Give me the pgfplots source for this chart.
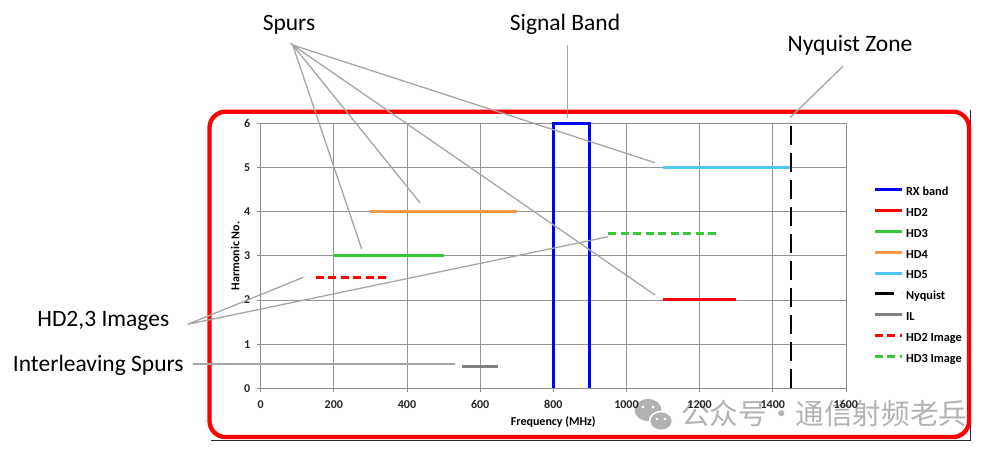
\documentclass[border=0pt]{standalone}
\usepackage{pgfplots}
\pgfplotsset{compat=1.18}
\usepackage{fontspec}
\setmainfont{Carlito}
\newfontfamily\cjk{Noto Sans CJK SC}
\definecolor{rxblue}{RGB}{0,0,255}
\definecolor{hdred}{RGB}{255,0,0}
\definecolor{hdgreen}{RGB}{55,200,55}
\definecolor{hdorange}{RGB}{247,150,70}
\definecolor{hdcyan}{RGB}{80,200,245}
\definecolor{ilgray}{RGB}{128,128,128}
\definecolor{anngray}{RGB}{165,165,165}
\definecolor{wmgray}{RGB}{178,178,178}
\begin{document}
\begin{tikzpicture}[x=1pt,y=1pt]
\useasboundingbox (0,0) rectangle (995,456);
% watermark (behind the chart text)
\fill[wmgray] (648,46) ellipse (13.5pt and 11pt);
\filldraw[wmgray, draw=white, line width=1.5pt] (661,35) ellipse (11.5pt and 9.5pt);
\fill[white] (643,49) circle (1.6pt) (653,49) circle (1.6pt) (657,37) circle (1.4pt) (665,37) circle (1.4pt);
\node[anchor=base west, inner sep=0pt, text=wmgray] at (681,31.5) {\cjk\fontsize{28.6}{30}\selectfont 公众号・通信射频老兵};
% thin chart-area edge
\draw[black!85, line width=0.8pt] (211,16) -- (970,16) -- (970,346);
\begin{axis}[
  at={(260.7pt,67.7pt)}, anchor=south west,
  width=585.2pt, height=265pt, scale only axis,
  xmin=0, xmax=1600, ymin=0, ymax=6,
  xtick={0,200,...,1600}, ytick={0,1,...,6},
  grid=major, grid style={black!42, line width=0.8pt},
  axis line style={black!45, line width=0.8pt},
  tick style={black!45, line width=0.8pt},
  tick align=outside, major tick length=3.3pt, tick pos=left,
  /pgf/number format/assume math mode=true,
  /pgf/number format/1000 sep={},
  ticklabel style={font=\bfseries\fontsize{12}{13}\selectfont, text=black!85},
  xticklabel style={anchor=base, yshift=-16.5pt},
  yticklabel style={anchor=east, inner sep=0pt, xshift=-7pt},
  xlabel={Frequency (MHz)}, ylabel={Harmonic No.},
  label style={font=\bfseries\fontsize{12}{13}\selectfont},
  xlabel style={at={(axis description cs:0.5,0)}, anchor=base, yshift=-37.4pt},
  ylabel style={at={(axis description cs:0,0.5)}, anchor=base, yshift=21.4pt},
  clip=false,
  legend style={at={(axis description cs:1.046,0.758)}, anchor=north west,
    draw=none, fill=none, inner sep=0pt, row sep=10.3pt, column sep=3pt,
    font=\bfseries\fontsize{12.3}{13}\selectfont,
    nodes={inner sep=0pt, text height=8pt, text depth=2.5pt}},
  legend cell align=left,
  every axis plot/.append style={line width=3pt},
  legend image code/.code={\draw[#1] (0pt,3pt) -- (27pt,3pt);},
]
\addplot[rxblue, line join=miter] coordinates {(800,0) (800,6) (900,6) (900,0)};
\addlegendentry{RX band}
\addplot[hdred] coordinates {(1100,2) (1300,2)};
\addlegendentry{HD2}
\addplot[hdgreen] coordinates {(200,3) (500,3)};
\addlegendentry{HD3}
\addplot[hdorange] coordinates {(300,4) (700,4)};
\addlegendentry{HD4}
\addplot[hdcyan] coordinates {(1100,5) (1450,5)};
\addlegendentry{HD5}
\addplot[black, line width=2.8pt, dash pattern=on 19pt off 8pt] coordinates {(1450,0) (1450,6)};
\addlegendentry{Nyquist}
\addplot[ilgray] coordinates {(550,0.5) (650,0.5)};
\addlegendentry{IL}
\addplot[hdred, dash pattern=on 8pt off 4.5pt] coordinates {(150,2.5) (350,2.5)};
\addlegendentry{HD2 Image}
\addplot[hdgreen, dash pattern=on 8pt off 4.5pt] coordinates {(950,3.5) (1250,3.5)};
\addlegendentry{HD3 Image}
\end{axis}
% red frame
\draw[hdred, line width=4.3pt, rounded corners=16pt] (209.5,344.3) rectangle (969,19);
% annotations
\begin{scope}[font=\fontsize{23.5}{26}\selectfont]
\node[anchor=base] at (289,425.3) {Spurs};
\node[anchor=base] at (565,425.5) {Signal Band};
\node[anchor=base] at (850,404.3) {Nyquist Zone};
\node[anchor=base] at (103.3,130) {HD2,3 Images};
\node[anchor=base] at (98.3,84.3) {Interleaving Spurs};
\end{scope}
\begin{scope}[anngray, line width=1.3pt]
\draw (361.7,207) -- (292.7,411) -- (420,253.3);
\draw (655,161) -- (292.7,411) -- (655,293.3);
\draw (567.3,411) -- (567.3,338);
\draw (843.3,390) -- (790,338.3);
\draw (303.3,178.7) -- (187.7,131.7) -- (608.3,219.3);
\draw (192.7,92) -- (455,92);
\end{scope}
\end{tikzpicture}
\end{document}
